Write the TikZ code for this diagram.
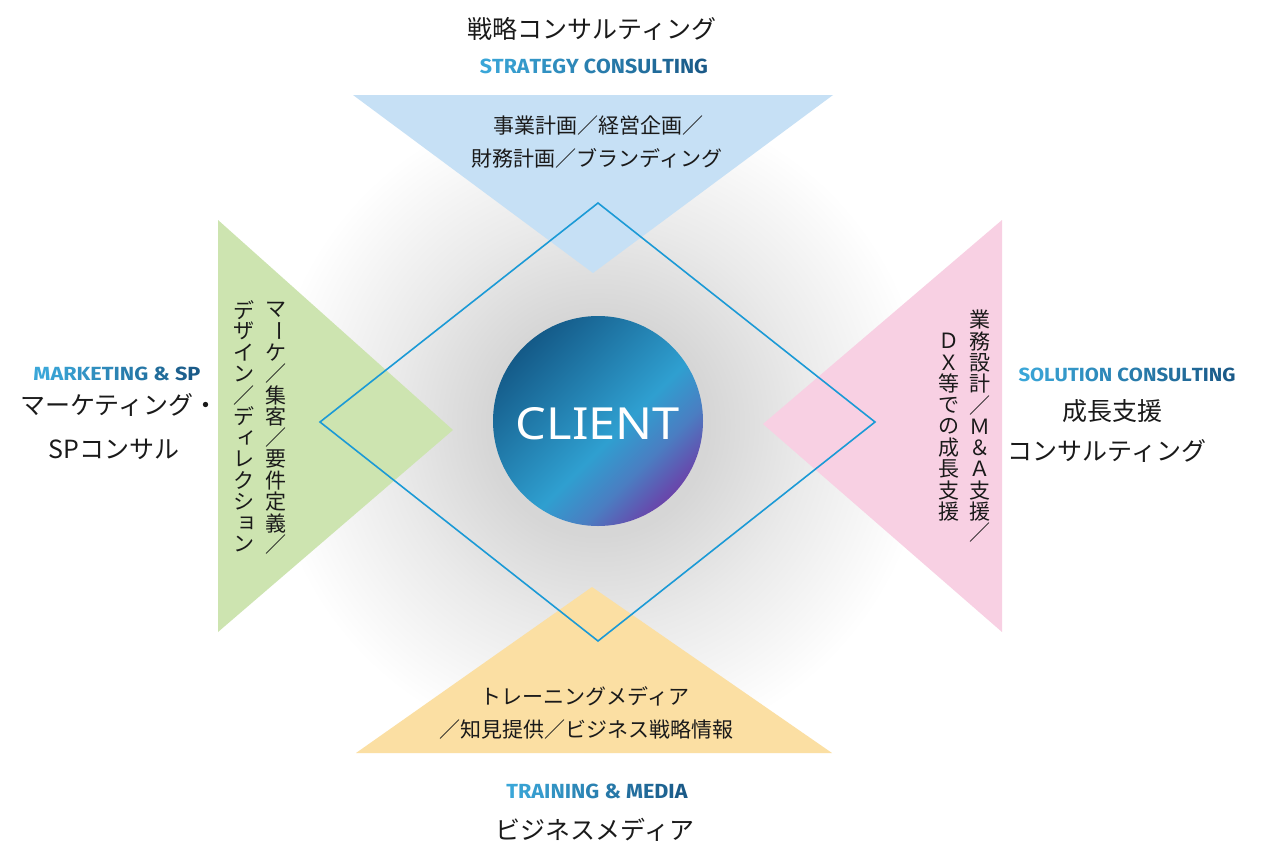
\documentclass[tikz,border=0pt]{standalone}
\usepackage{fontspec}
\usepackage{graphicx}
\newfontfamily\jp{Noto Sans CJK JP}
\newfontfamily\enf{Fira Sans}
\newfontfamily\clientf{Noto Sans}
\definecolor{ink}{HTML}{1A1A1A}
\definecolor{triblue}{HTML}{C6E0F5}
\definecolor{trigreen}{HTML}{CDE4B0}
\definecolor{tripink}{HTML}{F8D0E3}
\definecolor{triorange}{HTML}{FBDFA3}
\definecolor{dialine}{HTML}{1B9AD6}
\definecolor{enlight}{HTML}{3AA6D8}
\definecolor{endark}{HTML}{1A5A88}
\definecolor{glowc}{HTML}{D6D6D6}
\definecolor{glowm}{HTML}{EAEAEA}
\definecolor{cA}{HTML}{145A88}
\definecolor{cB}{HTML}{2F9FD0}
\definecolor{cC}{HTML}{4A7EC2}
\definecolor{cD}{HTML}{6A44AA}
\pgfdeclareradialshading{glow}{\pgfpoint{0bp}{0bp}}{color(0bp)=(glowc); color(8bp)=(glowc); color(15bp)=(glowm); color(24bp)=(white); color(50bp)=(white)}
\pgfdeclarehorizontalshading{clientgrad}{100bp}{color(0bp)=(cA); color(25bp)=(cA); color(55bp)=(cB); color(65bp)=(cC); color(75bp)=(cD); color(100bp)=(cD)}
\makeatletter
\newcount\gr@i \newcount\gr@n \newcount\gr@p
\newcommand\gradtext[2]{\gr@i=0 \gr@n=#1\relax\@tfor\gr@c:=#2\do{\gr@p=\numexpr 100*\gr@i/\gr@n\relax\textcolor{endark!\the\gr@p!enlight}{\gr@c}\advance\gr@i by 1 }}
\makeatother
\begin{document}
\begin{tikzpicture}[x=1pt,y=-1pt,
  jptitle/.style={font=\jp\fontsize{25}{30}\selectfont, text=ink, inner sep=0pt},
  jpbody/.style={font=\jp\fontsize{21}{26}\selectfont, text=ink, inner sep=0pt},
  vch/.style={font=\jp\fontsize{21}{21}\selectfont, text=ink, inner sep=0pt},
  vbar/.style={rotate=-90},
  smallkana/.style={xshift=3pt},
  plain/.style={},
  entag/.style={font=\enf\bfseries, inner sep=0pt}]
\useasboundingbox (0,0) rectangle (1266,862);
\fill[white] (0,0) rectangle (1266,862);
% glow
\shade[shading=glow] (598,425) circle (345);
% triangles
\fill[triblue] (353,95) -- (833,95) -- (593,273) -- cycle;
\fill[trigreen] (218,220) -- (218,632) -- (453,430) -- cycle;
\fill[tripink] (1002,220) -- (1002,632) -- (763,424) -- cycle;
\fill[triorange] (356,753) -- (832,753) -- (592,587) -- cycle;
% diamond
\coordinate (dt) at (598,203);
\coordinate (dr) at (875,422);
\coordinate (db) at (598,641);
\coordinate (dl) at (320,422);
\draw[dialine, line width=1.6pt, line join=miter] (dt) -- (dr) -- (db) -- (dl) -- cycle;
% client
\shade[shading=clientgrad, shading angle=-45] (598,421) circle (105);
\node[inner sep=0pt, text=white, font=\clientf] (client) at (598,424) {\resizebox{164pt}{32pt}{CLIENT}};
% top
\node[jptitle] (ttl) at (592,29) {戦略コンサルティング};
\node[entag] (ten) at (594,66) {\resizebox{228pt}{14.5pt}{\gradtext{18}{STRATEGY~CONSULTING}}};
\node[jpbody] (tb1) at (598,126) {事業計画／経営企画／};
\node[jpbody] (tb2) at (597,158) {財務計画／ブランディング};
% bottom
\node[jpbody] (bb1) at (585,696) {トレーニングメディア};
\node[jpbody] (bb2) at (586,730) {／知見提供／ビジネス戦略情報};
\node[entag] (ben) at (597,791) {\resizebox{181pt}{14.5pt}{\gradtext{15}{TRAINING~\&~MEDIA}}};
\node[jptitle] (bttl) at (595,830) {ビジネスメディア};
% left
\node[entag] (len) at (117,374) {\resizebox{167pt}{13.5pt}{\gradtext{13}{MARKETING~\&~SP}}};
\node[jptitle] (lt1) at (119,405) {マーケティング・};
\node[jptitle] (lt2) at (114,449) {SPコンサル};
\foreach \c/\o [count=\i from 0] in {マ/plain,ー/vbar,ケ/plain,／/plain,集/plain,客/plain,／/plain,要/plain,件/plain,定/plain,義/plain,／/plain}
  \node[vch,\o] (lva\i) at (276,{310+21.3*\i}) {\c};
\foreach \c/\o [count=\i from 0] in {デ/plain,ザ/plain,イ/plain,ン/plain,／/plain,デ/plain,ィ/smallkana,レ/plain,ク/plain,シ/plain,ョ/smallkana,ン/plain}
  \node[vch,\o] (lvb\i) at (244,{310+21.3*\i}) {\c};
% right
\node[entag] (ren) at (1127,375) {\resizebox{217pt}{13.5pt}{\gradtext{18}{SOLUTION~CONSULTING}}};
\node[jptitle] (rt1) at (1112,411) {成長支援};
\node[jptitle] (rt2) at (1107,451) {コンサルティング};
\foreach \c [count=\i from 0] in {業,務,設,計,／,Ｍ,＆,Ａ,支,援,／}
  \node[vch] (rva\i) at (980,{320+21.3*\i}) {\c};
\foreach \c [count=\i from 0] in {Ｄ,Ｘ,等,で,の,成,長,支,援}
  \node[vch] (rvb\i) at (949,{341+21.3*\i}) {\c};
\end{tikzpicture}
\end{document}
